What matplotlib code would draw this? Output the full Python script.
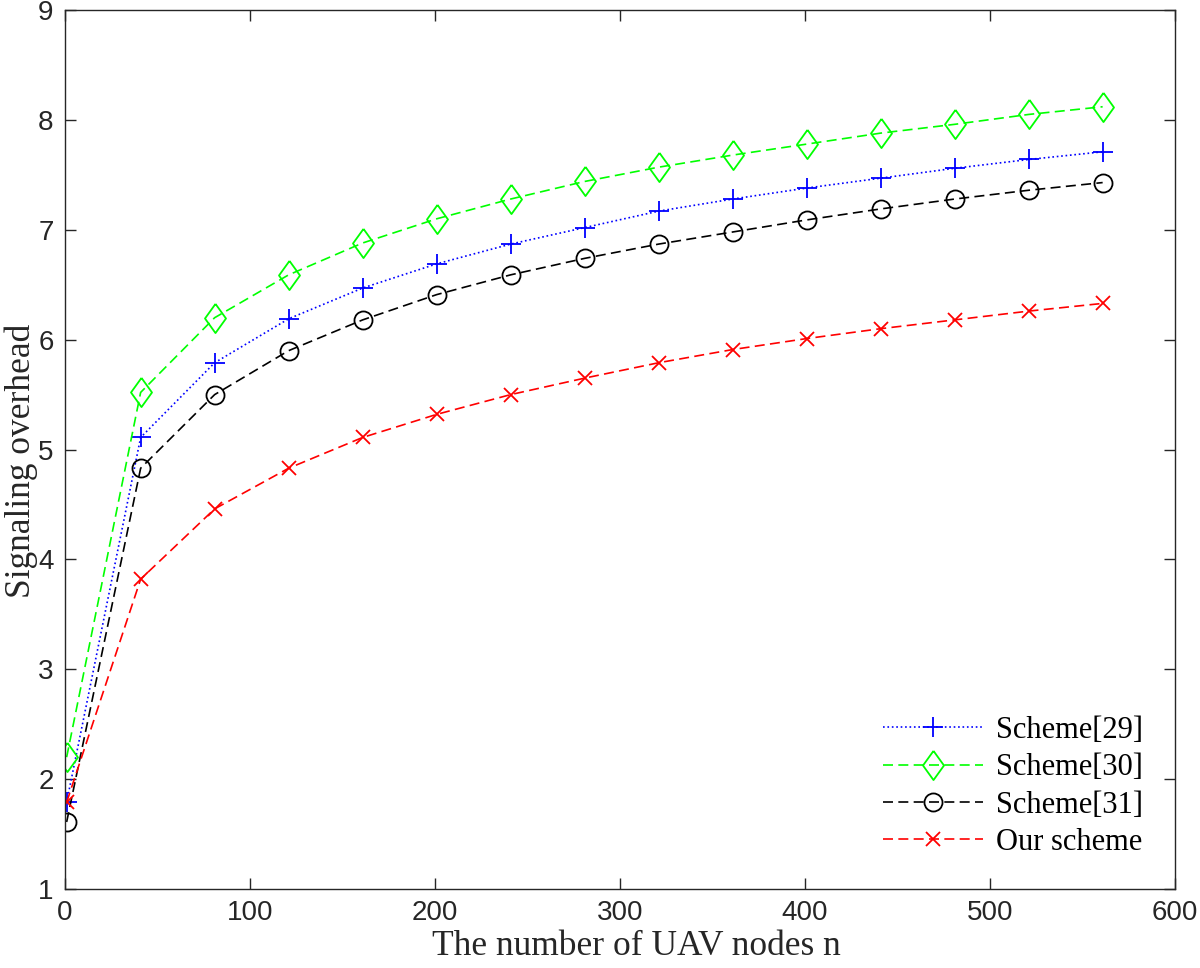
import numpy as np
import matplotlib
matplotlib.use("Agg")
import matplotlib.pyplot as plt

n_nodes = [1, 41, 81, 121, 161, 201, 241, 281, 321, 361, 401, 441, 481, 521, 561]

scheme29 = [1.79, 5.11, 5.79, 6.19, 6.47, 6.69, 6.87, 7.02, 7.17, 7.28, 7.38, 7.47, 7.56, 7.64, 7.71]
scheme30 = [2.20, 5.52, 6.20, 6.59, 6.88, 7.10, 7.28, 7.44, 7.57, 7.68, 7.78, 7.88, 7.96, 8.05, 8.12]
scheme31 = [1.61, 4.83, 5.50, 5.90, 6.18, 6.41, 6.59, 6.74, 6.87, 6.98, 7.09, 7.19, 7.28, 7.36, 7.43]
ours = [1.79, 3.82, 4.46, 4.83, 5.11, 5.32, 5.50, 5.65, 5.79, 5.91, 6.01, 6.10, 6.18, 6.26, 6.33]

labels = ["Scheme[29]", "Scheme[30]", "Scheme[31]", "Our scheme"]

# matlab style diamond (a bit wider than mpl 'd')
diamond = [(0, 1), (0.72, 0), (0, -1), (-0.72, 0), (0, 1)]
dash = (0, (6.0, 3.2))

fig = plt.figure(figsize=(12, 9.68), dpi=100)
ax = fig.add_axes([0.054, 0.0816, 0.925, 0.908])

lw = 1.2
ax.plot(n_nodes, scheme29, color=(0, 0, 1), linestyle=":", linewidth=lw,
        marker="+", markersize=14, markeredgewidth=1.3, label=labels[0])
ax.plot(n_nodes, scheme30, color=(0, 1, 0), linestyle=dash, linewidth=lw,
        marker=diamond, markersize=21, markerfacecolor="none", markeredgewidth=1.3,
        label=labels[1])
ax.plot(n_nodes, scheme31, color="k", linestyle=dash, linewidth=lw,
        marker="o", markersize=13, markerfacecolor="none", markeredgewidth=1.3,
        label=labels[2])
ax.plot(n_nodes, ours, color=(1, 0, 0), linestyle=dash, linewidth=lw,
        marker="x", markersize=10, markeredgewidth=1.3, label=labels[3])

ax.set_xlim(0, 600)
ax.set_ylim(1, 9)
ax.set_xticks(np.arange(0, 601, 100))
ax.set_yticks(np.arange(1, 10, 1))

for s in ax.spines.values():
    s.set_color("#262626")
    s.set_linewidth(1.0)
ax.tick_params(direction="in", top=True, right=True, length=8, width=1.0,
               color="#262626", labelcolor="#262626", labelsize=20, pad=8)
for t in ax.get_xticklabels() + ax.get_yticklabels():
    t.set_fontfamily("Liberation Sans")

ax.set_xlabel("The number of UAV nodes n", family="Liberation Serif", fontsize=25.5,
              color="#262626", labelpad=3)
ax.set_ylabel("Signaling overhead", family="Liberation Serif", fontsize=25.5,
              color="#262626", labelpad=0)
# label centres in the original sit a little off the axes middle
ax.xaxis.label.set_x(0.515)
ax.yaxis.label.set_y(0.487)

leg = ax.legend(loc="lower right", frameon=False, handlelength=3.3,
                prop={"family": "Liberation Serif", "size": 22},
                labelspacing=0.27, handletextpad=0.4, borderaxespad=0.65)

fig.savefig("out.png", dpi=100)
